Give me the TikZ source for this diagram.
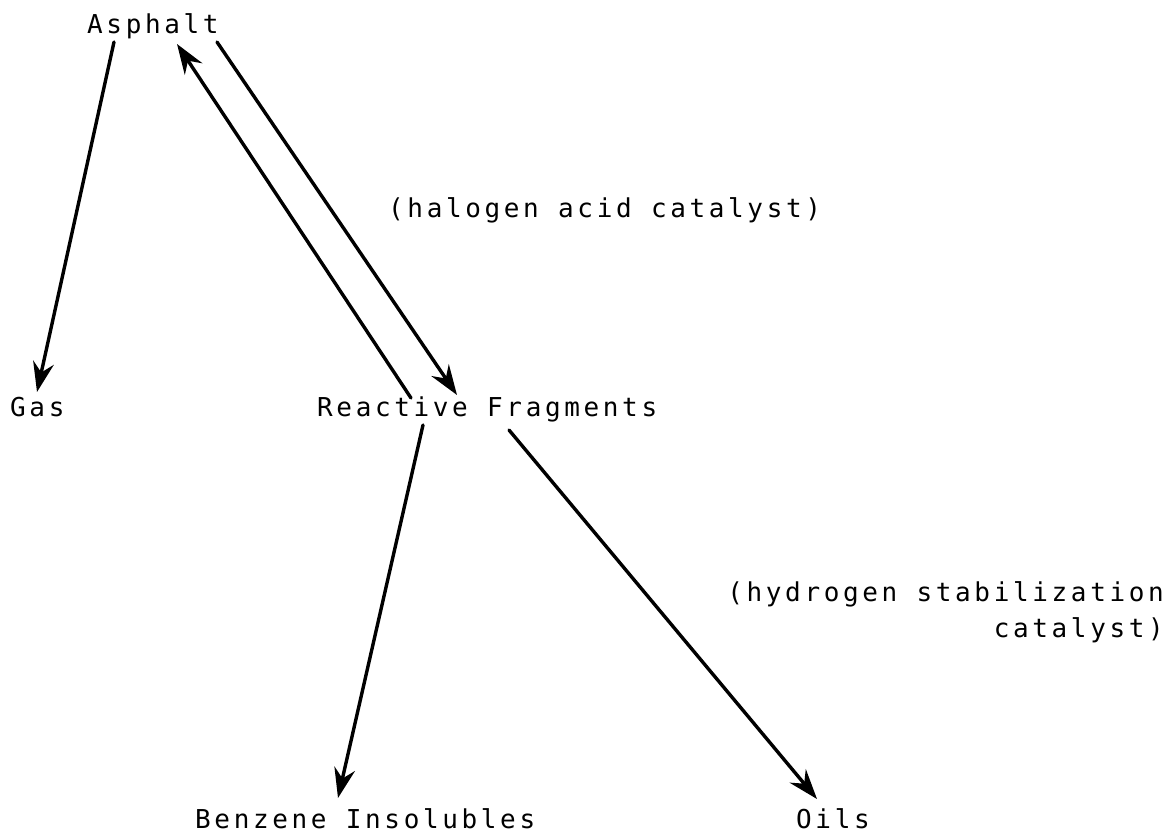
\documentclass[tikz,border=0pt]{standalone}
\usepackage{fontspec}
\setmainfont{DejaVu Sans Mono}[LetterSpace=14]
\usetikzlibrary{arrows.meta,calc}
\begin{document}
\begin{tikzpicture}[x=1pt,y=-1pt,
  lbl/.style={inner sep=0pt,anchor=base west,font=\fontsize{26}{36}\selectfont},
  conn/.style={line width=3.4pt,line cap=round,-{Stealth[length=30pt,width=21pt,inset=10pt]}}]
\useasboundingbox (0,0) rectangle (1167,836);
\node[lbl] (asphalt) at (87,33) {Asphalt};
\node[lbl] (gas) at (10,416) {Gas};
\node[lbl] (reactive) at (317,416) {Reactive Fragments};
\node[lbl] (halogen) at (388,217) {(halogen acid catalyst)};
\node[lbl,anchor=base east] (hydroA) at (1164,601) {(hydrogen stabilization};
\node[lbl,anchor=base east] (hydroB) at (1164,637) {catalyst)};
\node[lbl] (benzene) at (195,828) {Benzene Insolubles};
\node[lbl] (oils) at (796,828) {Oils};
\draw[conn] ($(asphalt.base west)+(27,9)$) -- ($(gas.base west)+(27,-24)$);
\draw[conn] ($(reactive.base west)+(94,-18)$) -- ($(asphalt.base west)+(90,11)$);
\draw[conn] ($(asphalt.base west)+(130,9)$) -- ($(reactive.base west)+(140,-21)$);
\draw[conn] ($(reactive.base west)+(106,9)$) -- ($(benzene.base west)+(143,-30)$);
\draw[conn] ($(reactive.base west)+(192,14)$) -- ($(oils.base west)+(21,-29)$);
\end{tikzpicture}
\end{document}
